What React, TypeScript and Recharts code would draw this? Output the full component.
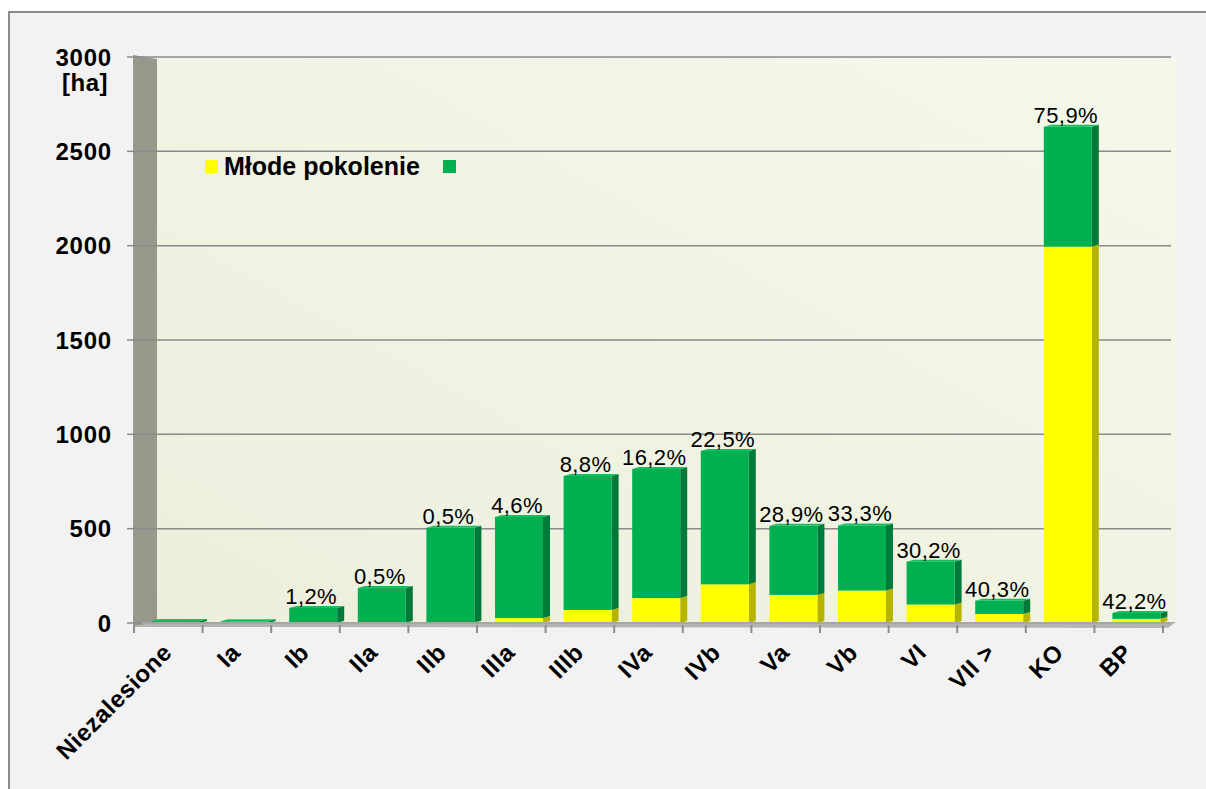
import { BarChart, Bar, XAxis, YAxis, CartesianGrid, LabelList, Legend } from "recharts";

const CATEGORIES = [
  "Niezalesione",
  "Ia",
  "Ib",
  "IIa",
  "IIb",
  "IIIa",
  "IIIb",
  "IVa",
  "IVb",
  "Va",
  "Vb",
  "VI",
  "VII >",
  "KO",
  "BP",
];

// młode pokolenie [ha] (yellow, bottom part)
const YOUNG = [0, 0, 1, 1, 3, 26, 69, 132, 205, 149, 172, 98, 48, 1995, 22];
// remaining area [ha] (green, top part)
const OTHER = [10, 9, 79, 184, 502, 536, 710, 684, 707, 366, 345, 227, 70, 635, 31];
const SHARE_LABELS = ["", "", "1,2%", "0,5%", "0,5%", "4,6%", "8,8%", "16,2%", "22,5%", "28,9%", "33,3%", "30,2%", "40,3%", "75,9%", "42,2%"];
const Y_TICKS = [0, 500, 1000, 1500, 2000, 2500, 3000];

const LEGEND_ORDER = ["young", "other"];
const LEGEND_NAMES: Record<string, string> = {
  young: "Młode pokolenie",
  other: "",
};

const PAGE_W = 1206;
const PAGE_H = 789;
const PAD = 8;
const W = PAGE_W - PAD;
const H = PAGE_H - PAD;
const Y_AXIS_W = 134;
const X_AXIS_H = 166;
const MARGIN = { top: 49, right: 35, left: 0, bottom: 0 };
const PLOT = { left: Y_AXIS_W, top: MARGIN.top, right: W - MARGIN.right, bottom: H - X_AXIS_H };
const BAND = (PLOT.right - PLOT.left) / CATEGORIES.length;
const DEPTH = { dx: 7, dy: 2 };
const FONT = "'Liberation Sans', Arial, sans-serif";

const data = CATEGORIES.map((name, i) => ({
  name,
  young: YOUNG[i],
  other: OTHER[i],
  share: SHARE_LABELS[i],
}));

function makeBar(front: string, side: string, top: string, showTop: boolean) {
  return (props: any) => {
    const { x, y, width, height } = props;
    if (width == null || height == null || height <= 0) return <g />;
    const { dx, dy } = DEPTH;
    const r = x + width;
    return (
      <g>
        <polygon
          points={`${r},${y} ${r + dx},${y - dy} ${r + dx},${y + height - dy} ${r},${y + height}`}
          fill={side}
        />
        {showTop && (
          <polygon points={`${x},${y} ${x + dx},${y - dy} ${r + dx},${y - dy} ${r},${y}`} fill={top} />
        )}
        <rect x={x} y={y} width={width} height={height} fill={front} />
      </g>
    );
  };
}

const YellowBar = makeBar("#ffff00", "#b5b500", "#ffff66", false);
const GreenBar = makeBar("#00b050", "#007a38", "#19bd60", true);

function XTick(props: any) {
  const { x, y, payload, index } = props;
  const half = BAND / 2;
  const shift = 8;
  const last = index === CATEGORIES.length - 1;
  const px = x - 3;
  const py = y + 31;
  return (
    <g>
      <line x1={x - half - shift} y1={y + 2} x2={x - half - shift} y2={y + 10} stroke="#8c8c8c" strokeWidth={2} />
      {last && (
        <line x1={x + half - shift} y1={y + 2} x2={x + half - shift} y2={y + 10} stroke="#8c8c8c" strokeWidth={2} />
      )}
      <text
        x={px}
        y={py}
        textAnchor="end"
        transform={`rotate(-45 ${px} ${py})`}
        fontFamily={FONT}
        fontWeight="bold"
        fontSize={24}
        letterSpacing={0.5}
        fill="#000"
      >
        {payload.value}
      </text>
    </g>
  );
}

function YTick(props: any) {
  const { y, payload } = props;
  return (
    <g>
      <text
        x={PLOT.left - 30}
        y={y}
        dy="0.36em"
        textAnchor="end"
        fontFamily={FONT}
        fontWeight="bold"
        fontSize={24}
        letterSpacing={0.8}
        fill="#000"
      >
        {payload.value}
      </text>
      {payload.value === 3000 && (
        <text
          x={PLOT.left - 34}
          y={y + 25}
          dy="0.36em"
          textAnchor="end"
          fontFamily={FONT}
          fontWeight="bold"
          fontSize={24}
          letterSpacing={0.5}
          fill="#000"
        >
          [ha]
        </text>
      )}
    </g>
  );
}

function ShareLabel(props: any) {
  const { x, y, width, value } = props;
  if (!value) return null;
  return (
    <text
      x={x + width / 2 - 2}
      y={y - 4}
      textAnchor="middle"
      fontFamily={FONT}
      fontSize={22}
      letterSpacing={0.4}
      fill="#000"
    >
      {value}
    </text>
  );
}

function LegendContent(props: any) {
  const items = [...(props.payload || [])].sort(
    (a: any, b: any) => LEGEND_ORDER.indexOf(a.dataKey) - LEGEND_ORDER.indexOf(b.dataKey)
  );
  return (
    <div style={{ display: "flex", alignItems: "center", fontFamily: FONT, fontWeight: "bold", fontSize: 25, lineHeight: "28px" }}>
      {items.map((item: any) => (
        <span key={item.dataKey} style={{ display: "inline-flex", alignItems: "center", marginRight: 23 }}>
          <span style={{ width: 13, height: 13, background: item.color, marginRight: 6, display: "inline-block" }} />
          {LEGEND_NAMES[item.dataKey] ?? ""}
        </span>
      ))}
    </div>
  );
}

export default function App() {
  const wallL = PLOT.left - 9;
  const wallR = PLOT.left + 15;
  const backR = PLOT.right + 5;
  return (
    <div style={{ position: "relative", width: PAGE_W, height: PAGE_H, overflow: "hidden", background: "#fff" }}>
      <style>{"body{margin:0}"}</style>
      <div style={{ position: "absolute", left: PAD, top: PAD, width: W, height: H }}>
        <div
          style={{
            position: "absolute",
            left: 0,
            top: 3,
            width: W,
            height: H - 3,
            background: "#f2f2f2",
            borderTop: "2px solid #8c8c8c",
            borderLeft: "2px solid #8c8c8c",
            boxSizing: "border-box",
          }}
        />
        <svg width={W} height={H} style={{ position: "absolute", left: 0, top: 0 }}>
          <defs>
            <linearGradient id="wall" x1="0" y1="1" x2="1" y2="0">
              <stop offset="0" stopColor="#ecefdc" />
              <stop offset="1" stopColor="#f5f8ea" />
            </linearGradient>
          </defs>
          <polygon
            points={`${wallL},${PLOT.top - 2} ${wallR},${PLOT.top + 2} ${wallR},${PLOT.bottom - 1} ${wallL},${PLOT.bottom + 4}`}
            fill="#979a8a"
          />
          <rect x={wallR} y={PLOT.top} width={backR - wallR} height={PLOT.bottom - PLOT.top} fill="url(#wall)" />
          <polygon
            points={`${wallL},${PLOT.bottom + 4} ${wallR},${PLOT.bottom - 1} ${backR},${PLOT.bottom - 1} ${backR - 8},${PLOT.bottom + 5}`}
            fill="#b4b4b4"
          />
        </svg>
        <div style={{ position: "absolute", left: 0, top: 0 }}>
          <BarChart width={W} height={H} data={data} margin={MARGIN} barSize={48}>
            <CartesianGrid horizontal vertical={false} stroke="#8a8a8a" strokeWidth={1.5} />
            <XAxis
              dataKey="name"
              height={X_AXIS_H}
              interval={0}
              tickLine={false}
              tickSize={0}
              tickMargin={0}
              axisLine={{ stroke: "#a6a6a6", strokeWidth: 2 }}
              tick={<XTick />}
            />
            <YAxis
              width={Y_AXIS_W}
              domain={[0, 3000]}
              ticks={Y_TICKS}
              interval={0}
              axisLine={false}
              tickSize={15}
              tickLine={{ stroke: "#8a8a8a", strokeWidth: 1.5 }}
              tick={<YTick />}
            />
            <Legend
              layout="horizontal"
              verticalAlign="middle"
              align="center"
              content={<LegendContent />}
              wrapperStyle={{ top: 144, left: 197, width: "auto", height: "auto" }}
            />
            <Bar dataKey="young" stackId="a" fill="#ffff00" shape={YellowBar} isAnimationActive={false} />
            <Bar dataKey="other" stackId="a" fill="#00b050" shape={GreenBar} isAnimationActive={false}>
              <LabelList dataKey="share" content={<ShareLabel />} />
            </Bar>
          </BarChart>
        </div>
      </div>
    </div>
  );
}
